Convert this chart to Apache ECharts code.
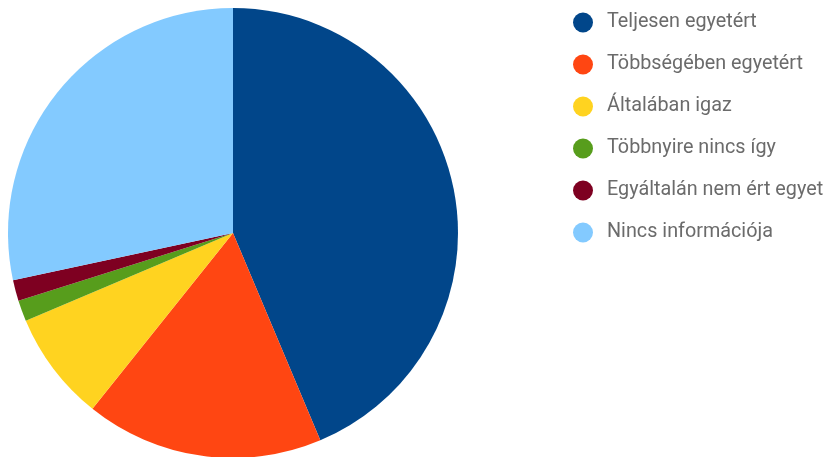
<!DOCTYPE html>
<html><head><meta charset="utf-8">
<script src="https://cdn.jsdelivr.net/npm/echarts@6/dist/echarts.min.js"></script>
<style>html,body{margin:0;padding:0;background:#fff}#c{width:828px;height:457px}</style>
</head><body><div id="c"></div>
<script>
const categories = ['Teljesen egyetért','Többségében egyetért','Általában igaz','Többnyire nincs így','Egyáltalán nem ért egyet','Nincs információja'];
const values = [43.7, 17.1, 7.9, 1.5, 1.5, 28.4];
const colors = ['#01468A','#FF4612','#FFD320','#579D1C','#7E0021','#83CAFF'];
const chart = echarts.init(document.getElementById('c'), null, {renderer:'canvas'});
chart.setOption({
  animation:false,
  color: colors,
  legend:{
    orient:'vertical', left:573, top:12.5, padding:0, icon:'circle', itemWidth:20, itemHeight:20, itemGap:22,
    formatter: n => '{t|' + n + '}',
    textStyle:{rich:{t:{fontFamily:'Roboto', fontSize:19.8, lineHeight:20, color:'#6b6b6b', padding:[0,0,0,9]}}},
    data: categories
  },
  series:[{
    type:'pie', center:[233,233], radius:225, startAngle:90, clockwise:true,
    label:{show:false}, labelLine:{show:false}, emphasis:{disabled:true},
    data: categories.map((n,i)=>({name:n, value:values[i]}))
  }]
});
</script></body></html>
